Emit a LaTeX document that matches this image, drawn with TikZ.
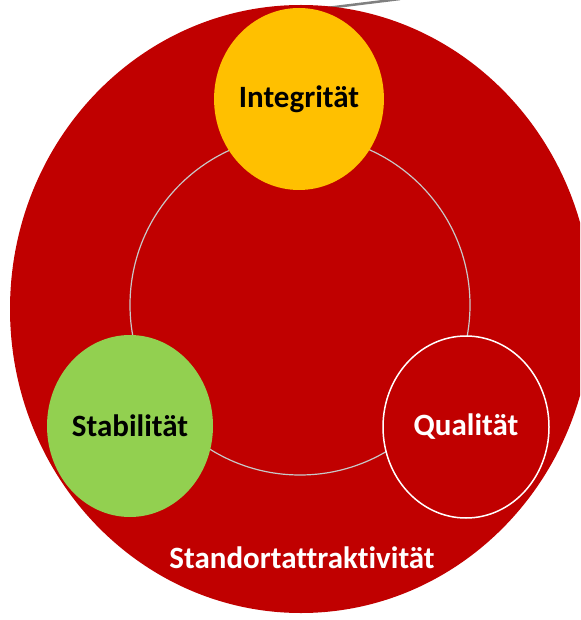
\documentclass[tikz,border=0pt]{standalone}
\usepackage{fontspec}
\setmainfont[Ligatures=NoCommon]{Carlito}
\usetikzlibrary{shapes.geometric}
\definecolor{bigred}{HTML}{C00000}
\definecolor{ygold}{HTML}{FFC000}
\definecolor{lgreen}{HTML}{92D050}
\definecolor{ringgrey}{HTML}{C8C8C8}
\tikzset{
  blob/.style={ellipse, minimum width=166pt, minimum height=182pt, inner sep=0pt, font=\bfseries\fontsize{31}{36}\selectfont},
  ringline/.style={draw=ringgrey, line width=1.2pt}
}
\begin{document}
\begin{tikzpicture}[x=1pt,y=-1pt]
\useasboundingbox (0,0) rectangle (580,620);
\clip (0,0) rectangle (580,620);
\coordinate (g1) at (286,13);
\coordinate (g2) at (400,-1);
\draw[gray, line width=2.5pt] (g1) -- (g2);
\node[ellipse, fill=bigred, minimum width=582pt, minimum height=608pt, inner sep=0pt] (outer) at (301,309) {};
\node[circle, ringline, minimum size=340pt, inner sep=0pt] (ring) at (300,305) {};
\node[blob, fill=ygold, text=black] (integ) at (299,99) {Integrität};
\node[blob, fill=lgreen, text=black] (stab) at (130,426) {Stabilität};
\node[blob, fill=bigred, draw=white, line width=1.5pt, text=white] (qual) at (466,427) {Qualität};
\node[font=\bfseries\fontsize{31}{36}\selectfont, text=white] (title) at (302,558) {Standortattraktivität};
\end{tikzpicture}
\end{document}
